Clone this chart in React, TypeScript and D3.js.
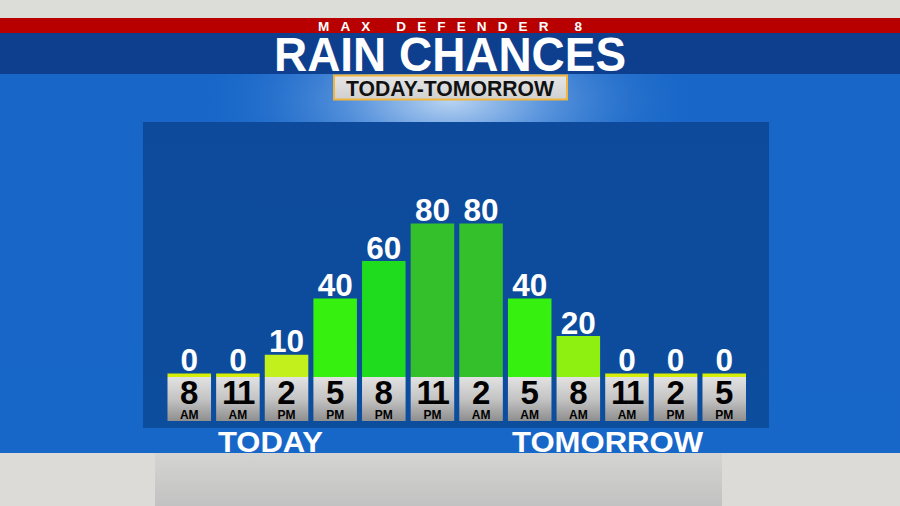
import React from "react";
import * as d3 from "d3";

const hours = ["8", "11", "2", "5", "8", "11", "2", "5", "8", "11", "2", "5"];
const meridiems = ["AM", "AM", "PM", "PM", "PM", "PM", "AM", "AM", "AM", "AM", "PM", "PM"];
const rainChances = [0, 0, 10, 40, 60, 80, 80, 40, 20, 0, 0, 0];
const dayLabels = ["TODAY", "TOMORROW"];

const W = 900;
const H = 506;
const FONT = "'Liberation Sans', Arial, Helvetica, sans-serif";

export default function App() {
  const idx = rainChances.map((_, i) => i);
  const x = d3.scaleBand<number>().domain(idx).range([167.5, 746]).paddingInner(0.105).paddingOuter(0);
  const y = d3.scaleLinear().domain([0, 100]).range([373.5, 186]);
  const boxTop = 377;
  const boxBottom = 421;
  const color = d3
    .scaleThreshold<number, string>()
    .domain([5, 15, 30, 50, 70])
    .range(["#d6ee06", "#c2f01c", "#8ef010", "#36f010", "#1fdc1f", "#34c02b"]);

  return (
    <svg width={W} height={H} style={{ position: "absolute", left: 0, top: 0 }}>
      <defs>
        <radialGradient id="glow" cx="450" cy="100" r="260" gradientUnits="userSpaceOnUse" gradientTransform="translate(450 100) scale(1 0.45) translate(-450 -100)">
          <stop offset="0" stopColor="#b9d4f2" />
          <stop offset="0.35" stopColor="#5f98de" />
          <stop offset="1" stopColor="#1766c7" stopOpacity="0" />
        </radialGradient>
        <linearGradient id="bg" x1="0" x2="0" y1="0" y2="1">
          <stop offset="0" stopColor="#1766c8" />
          <stop offset="1" stopColor="#1767c9" />
        </linearGradient>
        <linearGradient id="panel" x1="0" x2="0" y1="0" y2="1">
          <stop offset="0" stopColor="#0d4a9b" />
          <stop offset="1" stopColor="#0d4d9e" />
        </linearGradient>
        <linearGradient id="box" x1="0" x2="0" y1="0" y2="1">
          <stop offset="0" stopColor="#e2e2e2" />
          <stop offset="0.5" stopColor="#c4c4c4" />
          <stop offset="1" stopColor="#8e8e8e" />
        </linearGradient>
        <linearGradient id="sub" x1="0" x2="0" y1="0" y2="1">
          <stop offset="0" stopColor="#e6e6e6" />
          <stop offset="1" stopColor="#d0d0d0" />
        </linearGradient>
        <linearGradient id="bottom" x1="0" x2="0" y1="0" y2="1">
          <stop offset="0" stopColor="#d4d4d2" />
          <stop offset="1" stopColor="#c2c2c2" />
        </linearGradient>
      </defs>

      {/* backgrounds */}
      <rect x={0} y={0} width={W} height={H} fill="#dcdcd8" />
      <rect x={0} y={73} width={W} height={381} fill="url(#bg)" />
      <rect x={0} y={73} width={W} height={381} fill="url(#glow)" />
      <rect x={0} y={453} width={W} height={53} fill="#dddbd7" />
      <rect x={155} y={453} width={567} height={53} fill="url(#bottom)" />

      {/* header bands */}
      <rect x={0} y={18} width={W} height={15} fill="#b80000" />
      <rect x={0} y={33} width={W} height={41} fill="#0e3f8e" />
      <text x={450} y={30.5} textAnchor="middle" fill="#fff" fontFamily={FONT} fontWeight="bold" fontSize={13.5} textLength={264} lengthAdjust="spacing">
        MAX DEFENDER 8
      </text>
      <text x={450} y={71} textAnchor="middle" fill="#fff" fontFamily={FONT} fontWeight="bold" fontSize={48} textLength={352} lengthAdjust="spacingAndGlyphs">
        RAIN CHANCES
      </text>

      {/* subtitle box */}
      <rect x={334} y={75.5} width={233} height={24} fill="url(#sub)" stroke="#f2b43a" strokeWidth={2} />
      <text x={450} y={96} textAnchor="middle" fill="#111" fontFamily={FONT} fontWeight="bold" fontSize={21.5} textLength={208} lengthAdjust="spacingAndGlyphs">
        TODAY-TOMORROW
      </text>

      {/* chart panel */}
      <rect x={143} y={122} width={626} height={306} fill="url(#panel)" />

      {/* bars */}
      {rainChances.map((v, i) => (
        <rect key={"b" + i} x={x(i)} y={y(v)} width={x.bandwidth()} height={boxTop - y(v)} fill={color(v)} />
      ))}

      {/* value labels */}
      {rainChances.map((v, i) => (
        <text key={"v" + i} x={(x(i) as number) + x.bandwidth() / 2} y={y(v) - 2.5} textAnchor="middle" fill="#fff" fontFamily={FONT} fontWeight="bold" fontSize={31.5}>
          {v}
        </text>
      ))}

      {/* time boxes */}
      {hours.map((h, i) => {
        const cx = (x(i) as number) + x.bandwidth() / 2;
        return (
          <g key={"t" + i}>
            <rect x={x(i)} y={boxTop} width={x.bandwidth()} height={boxBottom - boxTop} fill="url(#box)" />
            <text x={cx} y={404} textAnchor="middle" fill="#000" fontFamily={FONT} fontWeight="bold" fontSize={33} letterSpacing={h.length > 1 ? -1.5 : 0}>
              {h}
            </text>
            <text x={cx} y={418.5} textAnchor="middle" fill="#000" fontFamily={FONT} fontWeight="bold" fontSize={12}>
              {meridiems[i]}
            </text>
          </g>
        );
      })}

      {/* day labels */}
      <text x={270.5} y={452} textAnchor="middle" fill="#fff" fontFamily={FONT} fontWeight="bold" fontSize={30} textLength={105} lengthAdjust="spacingAndGlyphs">
        {dayLabels[0]}
      </text>
      <text x={607.5} y={452} textAnchor="middle" fill="#fff" fontFamily={FONT} fontWeight="bold" fontSize={30} textLength={191} lengthAdjust="spacingAndGlyphs">
        {dayLabels[1]}
      </text>
    </svg>
  );
}
